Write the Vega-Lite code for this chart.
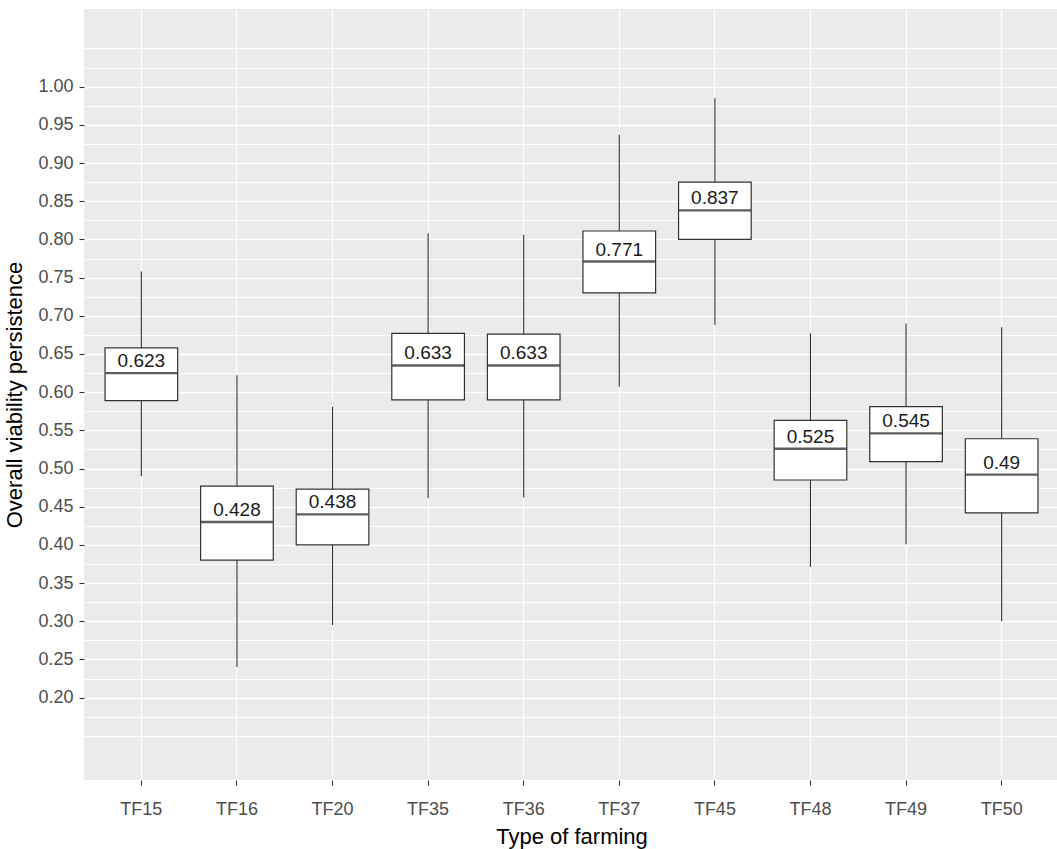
{
  "$schema": "https://vega.github.io/schema/vega-lite/v6.json",
  "autosize": "none",
  "padding": {"left": 84, "top": 9, "right": 0, "bottom": 69},
  "width": 975,
  "height": 771,
  "background": "white",
  "config": {
    "view": {"fill": "#EBEBEB", "stroke": null},
    "font": "Liberation Sans",
    "axis": {
      "domain": false,
      "grid": true,
      "gridColor": "white",
      "gridOpacity": 1,
      "gridWidth": 1.3,
      "tickColor": "#333333",
      "tickWidth": 1.1,
      "tickSize": 5,
      "labelColor": "#4D4D4D",
      "labelFont": "Liberation Sans",
      "labelFontSize": 18,
      "titleFont": "Liberation Sans",
      "titleFontSize": 22,
      "titleFontWeight": "normal",
      "titleColor": "#000000"
    }
  },
  "data": {
    "values": [
      {"farming": "TF15", "lower": 0.490, "q1": 0.589, "median": 0.625, "q3": 0.658, "upper": 0.758, "label": "0.623"},
      {"farming": "TF16", "lower": 0.240, "q1": 0.380, "median": 0.430, "q3": 0.477, "upper": 0.622, "label": "0.428"},
      {"farming": "TF20", "lower": 0.295, "q1": 0.400, "median": 0.440, "q3": 0.473, "upper": 0.581, "label": "0.438"},
      {"farming": "TF35", "lower": 0.461, "q1": 0.590, "median": 0.635, "q3": 0.677, "upper": 0.808, "label": "0.633"},
      {"farming": "TF36", "lower": 0.462, "q1": 0.590, "median": 0.635, "q3": 0.676, "upper": 0.806, "label": "0.633"},
      {"farming": "TF37", "lower": 0.607, "q1": 0.730, "median": 0.771, "q3": 0.811, "upper": 0.937, "label": "0.771"},
      {"farming": "TF45", "lower": 0.688, "q1": 0.800, "median": 0.838, "q3": 0.875, "upper": 0.985, "label": "0.837"},
      {"farming": "TF48", "lower": 0.371, "q1": 0.485, "median": 0.526, "q3": 0.563, "upper": 0.677, "label": "0.525"},
      {"farming": "TF49", "lower": 0.401, "q1": 0.509, "median": 0.546, "q3": 0.581, "upper": 0.690, "label": "0.545"},
      {"farming": "TF50", "lower": 0.300, "q1": 0.442, "median": 0.492, "q3": 0.539, "upper": 0.685, "label": "0.49"}
    ]
  },
  "encoding": {
    "x": {
      "field": "farming",
      "type": "nominal",
      "title": "Type of farming",
      "scale": {"type": "band", "paddingInner": 0, "paddingOuter": 0.1},
      "axis": {"labelAngle": 0, "grid": true, "bandPosition": 0.5, "labelPadding": 15, "titlePadding": 8}
    }
  },
  "layer": [
    {
      "mark": {"type": "rule", "color": "#333333", "strokeWidth": 1.1},
      "encoding": {
        "y": {
          "field": "lower",
          "type": "quantitative",
          "title": "Overall viability persistence",
          "scale": {"domain": [0.0922, 1.1017], "nice": false, "zero": false},
          "axis": {
            "values": [0.15, 0.175, 0.2, 0.225, 0.25, 0.275, 0.3, 0.325, 0.35, 0.375, 0.4, 0.425, 0.45, 0.475, 0.5, 0.525, 0.55, 0.575, 0.6, 0.625, 0.65, 0.675, 0.7, 0.725, 0.75, 0.775, 0.8, 0.825, 0.85, 0.875, 0.9, 0.925, 0.95, 0.975, 1.0, 1.025, 1.05],
            "tickCount": 200,
            "labelExpr": "(datum.value > 0.199 && datum.value < 1.001 && round(datum.value * 40) % 2 == 0) ? format(datum.value, '.2f') : ''",
            "labelOverlap": false,
            "tickOpacity": {"condition": {"test": "datum.value > 0.199 && datum.value < 1.001 && round(datum.value * 40) % 2 == 0", "value": 1}, "value": 0},
            "gridWidth": {"condition": {"test": "round(datum.value * 40) % 2 == 0", "value": 1.4}, "value": 1.0},
            "labelPadding": 6,
            "titlePadding": 11.5
          }
        },
        "y2": {"field": "upper"}
      }
    },
    {
      "mark": {"type": "bar", "fill": "white", "stroke": "#333333", "strokeWidth": 1.2, "width": {"band": 0.76}},
      "encoding": {
        "y": {"field": "q1", "type": "quantitative"},
        "y2": {"field": "q3"}
      }
    },
    {
      "mark": {"type": "tick", "color": "#1A1A1A", "thickness": 2.4, "size": 72},
      "encoding": {
        "y": {"field": "median", "type": "quantitative"}
      }
    },
    {
      "mark": {"type": "text", "font": "Liberation Sans", "fontSize": 19, "color": "#1A1A1A", "baseline": "alphabetic", "dy": -6},
      "encoding": {
        "y": {"field": "median", "type": "quantitative"},
        "text": {"field": "label"}
      }
    }
  ]
}
